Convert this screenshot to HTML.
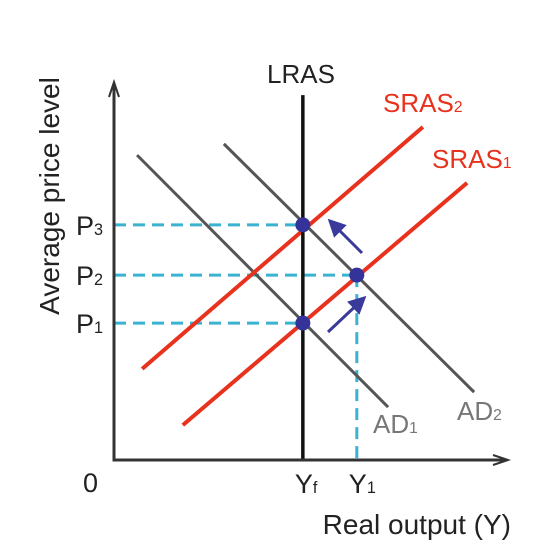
<!DOCTYPE html>
<html><head><meta charset="utf-8"><style>
html,body{margin:0;padding:0;background:#fff;}
svg{display:block;font-family:"Liberation Sans",sans-serif;}
</style></head><body>
<svg id="chart" width="552" height="556" viewBox="0 0 552 556"></svg>
<script>
const lrasX = 4.83;
const priceLevels = [3.65, 4.93, 6.27];
const priceLabels = ["P", "P", "P"];
const priceSubs = ["1", "2", "3"];
const y1Value = 6.21;
const sras1 = [[1.76, 0.93], [9.03, 7.39]];
const sras2 = [[0.72, 2.43], [7.90, 8.88]];
const ad1 = [[0.59, 8.13], [7.01, 1.41]];
const ad2 = [[2.81, 8.43], [9.21, 1.81]];
const equilibria = [[4.83, 3.65], [6.21, 4.93], [4.83, 6.27]];

const X0 = 114, X1 = 505, Y0 = 460, Y1 = 85;
const sx = v => X0 + v * (X1 - X0) / 10;
const sy = v => Y0 - v * (Y0 - Y1) / 10;
const svg = document.getElementById('chart');
const NS = 'http://www.w3.org/2000/svg';
function mk(tag, attrs, parent) {
  const e = document.createElementNS(NS, tag);
  for (const k in attrs) e.setAttribute(k, attrs[k]);
  (parent || svg).appendChild(e);
  return e;
}
function txt(x, y, s, size, fill, name, anchor) {
  const t = mk('text', {x: x, y: y, 'font-size': size, fill: fill, 'text-anchor': anchor || 'start'});
  
  
  t.textContent = s;
  return t;
}
function sub(t, main, s) {
  t.textContent = main;
  const ts = mk('tspan', {'font-size': '0.6em'}, t);
  ts.textContent = s;
}

priceLevels.forEach((p, i) => {
  const xe = equilibria.find(e => e[1] === p) || [lrasX, p];
  const l = mk('line', {x1: sx(0), y1: sy(p), x2: sx(xe[0]), y2: sy(p), stroke: '#3bb3d0', 'stroke-width': 3, 'stroke-dasharray': '12,7'});
  
  
  const t = txt(sx(0) - 38, sy(p) + 10, '', 27, '#222', 'price-label-p' + priceSubs[i]);
  sub(t, priceLabels[i], priceSubs[i]);
});
const yg = mk('line', {x1: sx(y1Value), y1: sy(4.93), x2: sx(y1Value), y2: sy(0), stroke: '#3bb3d0', 'stroke-width': 3, 'stroke-dasharray': '12,7'});



function seg(d, color, w, name) {
  const l = mk('line', {x1: sx(d[0][0]), y1: sy(d[0][1]), x2: sx(d[1][0]), y2: sy(d[1][1]), stroke: color, 'stroke-width': w});
  
  
}
seg(ad1, '#555', 3, 'ad1-curve');
seg(ad2, '#555', 3, 'ad2-curve');
seg(sras1, '#e8321e', 4, 'sras1-curve');
seg(sras2, '#e8321e', 4, 'sras2-curve');
seg([[lrasX, 0], [lrasX, 9.73]], '#111', 3.5, 'lras-line');

const ax = mk('path', {d: `M${X0},${Y1} L${X0},${Y0} L${X1},${Y0}`, fill: 'none', stroke: '#333', 'stroke-width': 3});


const ah1 = mk('path', {d: `M${X0-5},${Y1+12} L${X0},${Y1-3} L${X0+5},${Y1+12}`, fill: 'none', stroke: '#333', 'stroke-width': 2});


const ah2 = mk('path', {d: `M${X1-12},${Y0-5} L${X1+3},${Y0} L${X1-12},${Y0+5}`, fill: 'none', stroke: '#333', 'stroke-width': 2});



mk('defs', {}).innerHTML = '<marker id="ah" markerWidth="6" markerHeight="6" refX="4" refY="3" orient="auto"><path d="M0,0 L6,3 L0,6 z" fill="#3a3a9a"/></marker>';
function arrow(x1, y1, x2, y2, name) {
  const l = mk('line', {x1: x1, y1: y1, x2: x2, y2: y2, stroke: '#3a3a9a', 'stroke-width': 3, 'marker-end': 'url(#ah)'});
  
  
}
arrow(328, 332, 362, 300, 'shift-arrow-up');
arrow(362, 253, 332, 223, 'shift-arrow-back');

equilibria.forEach((e, i) => {
  const c = mk('circle', {cx: sx(e[0]), cy: sy(e[1]), r: 7.5, fill: '#33339a'});
  
  
});

txt(301, 83, 'LRAS', 26, '#222', 'lras-label', 'middle');
sub(txt(383, 112, '', 26, '#e8321e', 'sras2-label'), 'SRAS', '2');
sub(txt(432, 168, '', 26, '#e8321e', 'sras1-label'), 'SRAS', '1');
sub(txt(373, 433, '', 26, '#777', 'ad1-label'), 'AD', '1');
sub(txt(457, 420, '', 26, '#777', 'ad2-label'), 'AD', '2');
txt(83, 492, '0', 27, '#222', 'origin-label');
sub(txt(sx(lrasX) - 8, 493, '', 27, '#222', 'yf-label'), 'Y', 'f');
sub(txt(sx(y1Value) - 8, 493, '', 27, '#222', 'y1-label'), 'Y', '1');
txt(511, 534, 'Real output (Y)', 28, '#222', 'x-axis-title', 'end');
const yt = txt(0, 0, 'Average price level', 28, '#222', 'y-axis-title', 'middle');
yt.setAttribute('transform', 'translate(59,196) rotate(-90)');
</script>
</body></html>
